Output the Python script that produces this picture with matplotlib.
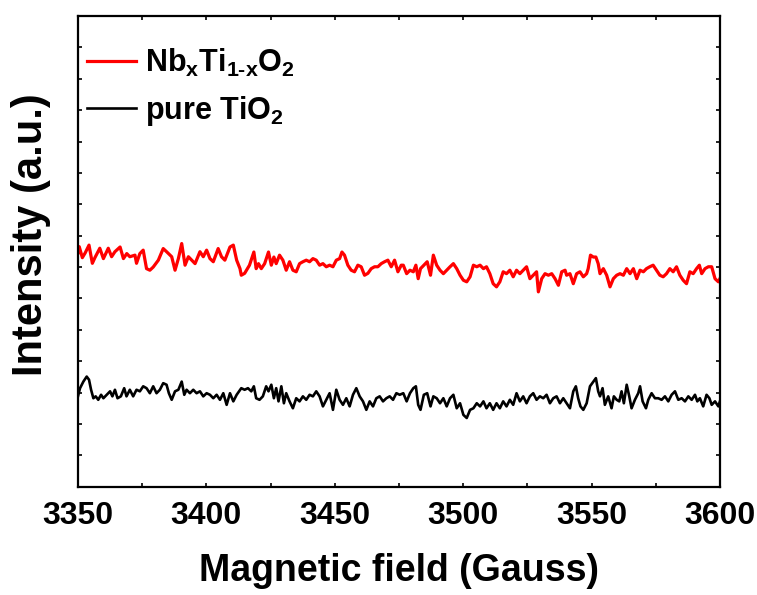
import numpy as np
import matplotlib
matplotlib.use("Agg")
import matplotlib.pyplot as plt
from matplotlib.ticker import MultipleLocator, NullFormatter

plt.rcParams['font.family'] = ['Liberation Sans', 'DejaVu Sans']
plt.rcParams['font.weight'] = 'bold'
plt.rcParams['mathtext.fontset'] = 'custom'
plt.rcParams['mathtext.rm'] = 'Liberation Sans:bold'
plt.rcParams['mathtext.bf'] = 'Liberation Sans:bold'
plt.rcParams['mathtext.it'] = 'Liberation Sans:bold'

# EPR spectrum, Nb-doped sample
field_nb = [3350.0, 3350.5, 3351.7, 3352.8, 3354.3, 3355.6, 3356.6, 3358.5, 3359.9, 3361.8,
            3363.1, 3364.4, 3366.4, 3367.7, 3369.0, 3370.2, 3372.2, 3372.8, 3374.1, 3375.4,
            3376.7, 3378.0, 3379.3, 3381.3, 3383.2, 3384.5, 3386.5, 3387.8, 3389.1, 3390.4,
            3391.7, 3393.0, 3394.3, 3395.6, 3397.5, 3398.8, 3400.1, 3401.4, 3402.7, 3404.6,
            3405.9, 3407.2, 3409.2, 3410.5, 3411.8, 3413.1, 3413.6, 3414.9, 3416.8, 3418.5,
            3419.4, 3420.3, 3421.4, 3422.7, 3424.2, 3425.3, 3426.3, 3427.2, 3428.5, 3429.8,
            3431.1, 3432.4, 3433.7, 3435.0, 3436.3, 3437.6, 3438.9, 3440.2, 3441.5, 3442.8,
            3444.1, 3445.4, 3446.7, 3448.0, 3449.3, 3450.6, 3451.9, 3452.8, 3453.8, 3455.1,
            3456.4, 3457.7, 3459.0, 3460.3, 3461.6, 3462.9, 3464.2, 3465.5, 3466.8, 3468.1,
            3469.4, 3470.7, 3472.0, 3473.3, 3474.6, 3475.9, 3476.7, 3478.0, 3479.3, 3480.6,
            3481.6, 3482.5, 3483.4, 3484.7, 3486.0, 3487.3, 3488.4, 3489.7, 3491.0, 3492.3,
            3493.6, 3494.9, 3496.2, 3497.5, 3498.8, 3500.1, 3501.4, 3502.7, 3504.0, 3505.3,
            3506.6, 3507.9, 3509.1, 3510.4, 3511.7, 3513.0, 3514.3, 3515.6, 3516.9, 3518.2,
            3519.5, 3520.8, 3522.1, 3523.4, 3524.7, 3526.0, 3527.3, 3528.6, 3529.3, 3530.6,
            3531.9, 3533.2, 3534.5, 3535.8, 3537.1, 3538.4, 3539.7, 3540.3, 3541.6, 3542.9,
            3544.2, 3545.5, 3546.8, 3548.1, 3548.7, 3549.6, 3550.7, 3551.7, 3552.6, 3553.3,
            3554.6, 3555.9, 3557.2, 3558.5, 3559.8, 3561.1, 3562.4, 3563.7, 3565.0, 3566.3,
            3567.6, 3568.9, 3570.2, 3571.4, 3572.7, 3574.0, 3575.3, 3576.6, 3577.9, 3579.2,
            3580.5, 3581.8, 3583.1, 3584.4, 3585.7, 3587.0, 3588.3, 3589.6, 3590.9, 3592.0,
            3592.9, 3594.2, 3595.5, 3596.8, 3598.1, 3599.4, 3600.0]
intensity_nb = [7.45, 7.65, 7.30, 7.45, 7.70, 7.12, 7.30, 7.60, 7.27, 7.60,
                7.33, 7.49, 7.64, 7.27, 7.43, 7.33, 7.38, 7.12, 7.43, 7.54,
                6.95, 6.90, 7.00, 7.22, 7.59, 7.49, 7.33, 6.90, 7.27, 7.75,
                7.06, 7.33, 7.22, 7.11, 7.49, 7.33, 7.54, 7.27, 7.17, 7.59,
                7.33, 7.22, 7.64, 7.70, 7.22, 6.95, 6.74, 6.80, 7.06, 7.48,
                6.95, 7.11, 6.95, 7.11, 7.48, 7.06, 7.32, 7.11, 7.38, 7.22,
                6.90, 7.17, 6.90, 6.85, 7.11, 7.17, 7.22, 7.17, 7.27, 7.22,
                7.06, 7.11, 7.01, 7.06, 7.01, 7.22, 7.27, 7.48, 7.38, 7.06,
                6.90, 6.85, 7.06, 7.01, 6.74, 6.80, 6.95, 7.01, 7.01, 7.11,
                7.17, 7.22, 7.01, 7.22, 6.85, 7.06, 7.06, 6.79, 6.90, 6.85,
                7.06, 6.63, 6.95, 7.06, 7.17, 6.74, 7.38, 7.06, 6.90, 6.79,
                6.90, 7.01, 7.11, 6.95, 6.74, 6.58, 6.53, 6.69, 7.06, 7.01,
                7.06, 6.95, 7.01, 6.79, 6.47, 6.37, 6.53, 6.85, 6.79, 6.90,
                6.69, 6.90, 6.79, 6.90, 7.01, 6.63, 6.74, 6.85, 6.21, 6.63,
                6.79, 6.74, 6.79, 6.63, 6.42, 6.85, 6.90, 6.74, 6.79, 6.47,
                6.79, 6.85, 6.69, 6.79, 6.95, 7.38, 7.32, 7.32, 7.11, 6.79,
                6.95, 6.74, 6.37, 6.63, 6.74, 6.79, 6.74, 6.95, 6.79, 6.95,
                6.63, 6.90, 6.85, 6.95, 7.01, 7.06, 6.90, 6.74, 6.69, 6.79,
                6.95, 6.85, 7.01, 6.74, 6.58, 6.47, 6.85, 6.79, 6.95, 7.06,
                6.79, 6.95, 7.01, 7.01, 6.63, 6.53, 6.63]

# EPR spectrum, undoped TiO2
field_ti = [3350.0, 3350.8, 3352.1, 3353.4, 3354.3, 3355.1, 3356.0, 3356.9, 3357.9, 3359.0,
            3359.9, 3361.2, 3362.5, 3363.4, 3364.4, 3365.4, 3366.7, 3368.0, 3368.9, 3370.2,
            3371.5, 3372.8, 3374.1, 3375.4, 3376.7, 3378.0, 3379.3, 3380.6, 3381.9, 3383.2,
            3384.5, 3385.4, 3386.5, 3387.8, 3389.1, 3390.4, 3391.4, 3392.3, 3393.6, 3394.9,
            3396.2, 3397.5, 3398.8, 3400.1, 3401.4, 3402.7, 3404.0, 3405.3, 3406.6, 3407.9,
            3409.2, 3410.5, 3411.8, 3413.6, 3414.9, 3416.2, 3417.5, 3418.5, 3419.4, 3420.7,
            3422.0, 3423.3, 3424.2, 3425.3, 3426.3, 3427.2, 3428.1, 3429.2, 3430.2, 3431.1,
            3432.4, 3433.7, 3435.0, 3436.3, 3437.6, 3438.9, 3440.2, 3441.5, 3442.8, 3444.1,
            3445.4, 3446.7, 3448.0, 3449.3, 3450.6, 3451.9, 3453.2, 3454.5, 3455.8, 3457.1,
            3458.4, 3459.7, 3461.0, 3462.3, 3463.6, 3464.9, 3466.2, 3467.5, 3468.8, 3470.1,
            3471.4, 3472.7, 3474.0, 3475.3, 3476.7, 3478.0, 3479.3, 3480.6, 3481.6, 3482.5,
            3483.4, 3484.7, 3486.0, 3487.3, 3488.4, 3489.7, 3491.0, 3492.3, 3493.6, 3494.9,
            3496.2, 3497.5, 3498.8, 3500.1, 3501.4, 3502.7, 3504.0, 3505.3, 3506.6, 3507.9,
            3509.1, 3510.4, 3511.7, 3513.0, 3514.3, 3515.6, 3516.9, 3518.2, 3519.5, 3520.8,
            3522.1, 3523.4, 3524.7, 3526.0, 3527.3, 3528.6, 3529.9, 3531.2, 3532.5, 3533.8,
            3535.1, 3536.4, 3537.7, 3539.0, 3540.3, 3541.6, 3542.9, 3543.9, 3544.8, 3545.7,
            3546.8, 3548.1, 3549.4, 3550.7, 3551.7, 3552.6, 3553.3, 3554.3, 3555.2, 3556.5,
            3557.8, 3558.7, 3559.8, 3560.8, 3561.7, 3562.6, 3563.7, 3564.7, 3565.6, 3566.9,
            3568.2, 3568.9, 3569.9, 3571.2, 3572.1, 3573.4, 3574.7, 3576.0, 3577.3, 3578.6,
            3579.9, 3581.2, 3582.5, 3583.8, 3585.1, 3586.4, 3587.7, 3589.0, 3590.3, 3591.2,
            3592.2, 3593.5, 3594.8, 3595.9, 3596.8, 3598.1, 3599.4, 3600.0]
intensity_ti = [2.88, 3.14, 3.35, 3.51, 3.41, 3.09, 2.82, 2.88, 2.77, 2.93,
                2.82, 2.93, 3.04, 2.88, 3.09, 2.82, 2.88, 3.14, 2.88, 3.09,
                2.88, 3.09, 3.04, 3.20, 3.14, 2.98, 3.20, 2.98, 3.09, 3.30,
                3.25, 2.98, 2.77, 3.04, 3.09, 3.35, 2.93, 3.09, 2.98, 3.09,
                2.98, 3.04, 2.88, 2.98, 2.93, 2.82, 2.93, 2.77, 2.98, 2.61,
                2.98, 2.72, 2.93, 3.14, 3.09, 3.14, 3.04, 3.20, 2.82, 2.77,
                2.88, 3.20, 3.04, 3.25, 2.82, 3.14, 2.72, 3.20, 2.66, 2.98,
                2.72, 2.50, 2.82, 2.72, 2.88, 2.77, 2.93, 2.88, 3.04, 2.88,
                2.56, 2.77, 2.98, 2.45, 3.09, 2.77, 2.61, 2.82, 2.56, 2.93,
                3.14, 2.88, 2.72, 2.45, 2.72, 2.56, 2.82, 2.88, 2.72, 2.82,
                2.88, 2.77, 2.98, 2.93, 2.98, 2.72, 2.98, 3.14, 3.20, 2.61,
                2.45, 2.93, 2.98, 2.56, 2.88, 2.82, 2.66, 2.82, 2.56, 2.82,
                2.93, 2.50, 2.66, 2.29, 2.19, 2.45, 2.50, 2.66, 2.56, 2.72,
                2.50, 2.66, 2.45, 2.66, 2.50, 2.72, 2.56, 2.77, 2.61, 2.98,
                2.72, 2.88, 2.66, 2.88, 2.98, 2.77, 2.88, 2.82, 2.93, 2.66,
                2.82, 2.88, 2.66, 2.82, 2.66, 2.50, 3.04, 3.20, 2.82, 2.56,
                2.45, 2.66, 3.20, 3.35, 3.46, 3.04, 2.88, 3.14, 2.61, 2.88,
                2.50, 2.88, 2.77, 2.72, 3.04, 2.66, 3.25, 2.88, 2.50, 2.77,
                2.98, 3.20, 2.72, 2.50, 2.77, 2.98, 2.82, 2.82, 2.77, 2.88,
                2.72, 2.93, 3.04, 2.77, 2.82, 2.72, 2.88, 2.77, 2.93, 2.72,
                2.82, 2.56, 2.93, 2.82, 2.61, 2.72, 2.56, 2.72]

fig = plt.figure(figsize=(7.57, 5.95), dpi=100)
ax = fig.add_axes([0.103, 0.182, 0.848, 0.791])

ax.plot(field_nb, intensity_nb, color='#ff0000', lw=2.3,
        label=r'Nb$_{\text{x}}$Ti$_{\text{1-x}}$O$_{\text{2}}$')
ax.plot(field_ti, intensity_ti, color='black', lw=1.9, label=r'pure TiO$_{\text{2}}$')

ax.set_xlim(3350, 3600)
ax.set_ylim(0, 15)
ax.xaxis.set_major_locator(MultipleLocator(50))
ax.xaxis.set_minor_locator(MultipleLocator(25))
ax.yaxis.set_major_locator(MultipleLocator(1))
ax.yaxis.set_major_formatter(NullFormatter())

for s in ax.spines.values():
    s.set_linewidth(1.6)
ax.tick_params(axis='x', which='major', direction='out', length=7, width=1.5, labelsize=23, pad=10)
ax.tick_params(axis='x', which='minor', direction='out', length=4, width=1.5)
ax.tick_params(axis='y', which='major', direction='in', length=3, width=1.2, left=True, right=True)
ax.tick_params(top=True, which='both', direction='in', length=3, width=1.2, labeltop=False)

ax.set_xlabel('Magnetic field (Gauss)', fontsize=27, fontweight='bold', labelpad=16)
ax.set_ylabel('Intensity (a.u.)', fontsize=30, fontweight='bold')
ax.yaxis.set_label_coords(-0.042, 0.535)

ax.legend(loc='upper left', bbox_to_anchor=(-0.015, 0.974), frameon=False, fontsize=22,
          handlelength=1.6, handletextpad=0.3, labelspacing=0.5, borderaxespad=0.2)

fig.savefig('out.png', dpi=100)
